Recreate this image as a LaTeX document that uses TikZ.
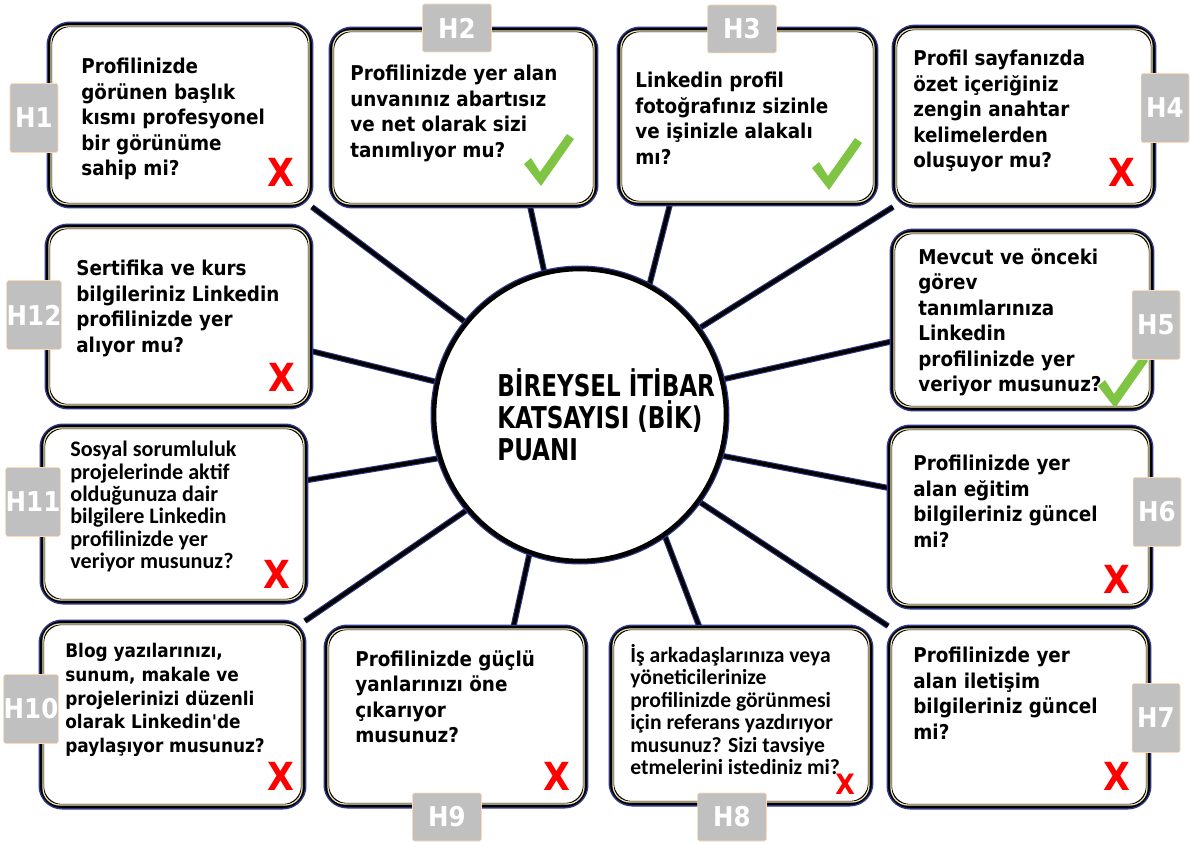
\documentclass[tikz,border=0pt]{standalone}
\usepackage{fontspec}
\setmainfont{DejaVu Sans Condensed}
\newfontfamily\calib{Carlito}
\usetikzlibrary{calc,backgrounds}

\definecolor{navy}{RGB}{47,56,140}
\definecolor{cream}{RGB}{240,228,180}
\definecolor{tagGray}{RGB}{192,192,192}
\definecolor{tickGreen}{RGB}{128,196,68}
\definecolor{crossRed}{RGB}{255,0,0}

\tikzset{
  qbox/.style={rounded corners=0.4cm, fill=white, draw=black, line width=2.3pt,
    preaction={draw=navy, line width=4pt}, anchor=north west, inner sep=0pt},
  qtext/.style={anchor=north west, align=left, inner sep=0pt,
    execute at begin node={\rule{0pt}{11pt}},
    font=\bfseries\fontsize{11.6}{14.5}\selectfont},
  qnarrow/.style={qtext, font=\calib\bfseries\fontsize{12.3}{12.8}\selectfont},
  tagbox/.style={fill=tagGray, draw=orange!30, line width=0.3pt, rounded corners=1pt,
    text=white, inner sep=0pt, font=\bfseries\fontsize{15.5}{15.5}\selectfont},
  vtag/.style={tagbox, minimum width=0.96cm, minimum height=1.38cm},
  htag/.style={tagbox, minimum width=1.38cm, minimum height=0.96cm},
  cross/.style={text=crossRed, inner sep=0pt, font=\bfseries\fontsize{22}{22}\selectfont},
  spoke/.style={draw=black, line width=2.2pt, preaction={draw=navy, line width=3.4pt}},
  tick/.pic={\fill[tickGreen] (-24,4) -- (-17,-2) -- (-8,12) -- (19,-26) -- (26,-21)
    -- (-7,26) -- cycle;}
}

\begin{document}
\begin{tikzpicture}[x=0.02cm, y=-0.02cm]
\useasboundingbox (0,0) rectangle (1190,844);

% kutular
\node[qbox, minimum width=5.20cm, minimum height=3.60cm] (b1) at (48,23) {};
\node[qbox, minimum width=5.26cm, minimum height=3.50cm] (b2) at (330,28) {};
\node[qbox, minimum width=5.10cm, minimum height=3.46cm] (b3) at (618,28) {};
\node[qbox, minimum width=5.16cm, minimum height=3.54cm] (b4) at (893,26) {};
\node[qbox, minimum width=5.16cm, minimum height=3.52cm] (b5) at (891,230) {};
\node[qbox, minimum width=5.20cm, minimum height=3.56cm] (b6) at (888,426) {};
\node[qbox, minimum width=5.16cm, minimum height=3.56cm] (b7) at (888,626) {};
\node[qbox, minimum width=5.16cm, minimum height=3.50cm] (b8) at (610,626) {};
\node[qbox, minimum width=5.16cm, minimum height=3.54cm] (b9) at (325,626) {};
\node[qbox, minimum width=5.22cm, minimum height=3.66cm] (b10) at (40,621) {};
\node[qbox, minimum width=5.24cm, minimum height=3.48cm] (b11) at (41,425) {};
\node[qbox, minimum width=5.24cm, minimum height=3.58cm] (b12) at (46,225) {};
\foreach \b in {b1,b2,b3,b4,b5,b6,b7,b8,b9,b10,b11,b12}
  \draw[cream, line width=0.7pt, rounded corners=0.34cm]
    ([shift={(3,3)}]\b.north west) rectangle ([shift={(-3,-3)}]\b.south east);

% merkez
\node[circle, fill=white, draw=black, line width=2.6pt, preaction={draw=navy, line width=4pt},
  minimum size=5.84cm, inner sep=0pt] (c) at (580,415) {};
\node[anchor=base west, align=left, inner sep=0pt,
  font=\bfseries\fontsize{14.6}{18.1}\selectfont] (ct) at (497,460)
  {\scalebox{1}[1.17]{BİREYSEL İTİBAR}\\\scalebox{1}[1.17]{KATSAYISI (BİK)}\\\scalebox{1}[1.17]{PUANI}};

% kollar
\begin{pgfonlayer}{background}
\draw[spoke] (c.141) -- (b1.south east);
\draw[spoke] (c.104) -- ($(b2.south west)!0.75!(b2.south east)$);
\draw[spoke] (c.62) -- ($(b3.south west)!0.2!(b3.south east)$);
\draw[spoke] (c.36) -- (b4.south west);
\draw[spoke] (c.14) -- ($(b5.north west)!0.62!(b5.south west)$);
\draw[spoke] (c.-16) -- ($(b6.north west)!0.34!(b6.south west)$);
\draw[spoke] (c.-36) -- (b7.north west);
\draw[spoke] (c.-55) -- ($(b8.north west)!0.34!(b8.north east)$);
\draw[spoke] (c.-110) -- ($(b9.north west)!0.72!(b9.north east)$);
\draw[spoke] (c.-140) -- (b10.north east);
\draw[spoke] (c.-163) -- ($(b11.north east)!0.31!(b11.south east)$);
\draw[spoke] (c.167) -- ($(b12.north east)!0.69!(b12.south east)$);
\end{pgfonlayer}

% sorular
\node[qtext] (q1) at (81,58) {Profilinizde\\görünen başlık\\kısmı profesyonel\\bir görünüme\\sahip mi?};
\node[qtext] (q2) at (350,65) {Profilinizde yer alan\\unvanınız abartısız\\ve net olarak sizi\\tanımlıyor mu?};
\node[qtext] (q3) at (635,72) {Linkedin profil\\fotoğrafınız sizinle\\ve işinizle alakalı\\mı?};
\node[qtext] (q4) at (913,50) {Profil sayfanızda\\özet içeriğiniz\\zengin anahtar\\kelimelerden\\oluşuyor mu?};
\node[qtext] (q5) at (918,248) {Mevcut ve önceki\\görev\\tanımlarınıza\\Linkedin\\profilinizde yer\\veriyor musunuz?};
\node[qtext] (q6) at (913,455) {Profilinizde yer\\alan eğitim\\bilgileriniz güncel\\mi?};
\node[qtext] (q7) at (913,647) {Profilinizde yer\\alan iletişim\\bilgileriniz güncel\\mi?};
\node[qnarrow] (q8) at (630,644) {İş arkadaşlarınıza veya\\yöneticilerinize\\profilinizde görünmesi\\için referans yazdırıyor\\musunuz? Sizi tavsiye\\etmelerini istediniz mi?};
\node[qtext] (q9) at (355,650) {Profilinizde güçlü\\yanlarınızı öne\\çıkarıyor\\musunuz?};
\node[qtext, font=\bfseries\fontsize{10.7}{13.5}\selectfont] (q10) at (65,643) {Blog yazılarınızı,\\sunum, makale ve\\projelerinizi düzenli\\olarak Linkedin\XeTeXglyph\XeTeXcharglyph"0027 de\\paylaşıyor musunuz?};
\node[qnarrow, font=\calib\bfseries\fontsize{12.6}{12.7}\selectfont] (q11) at (70,441) {Sosyal sorumluluk\\projelerinde aktif\\olduğunuza dair\\bilgilere Linkedin\\profilinizde yer\\veriyor musunuz?};
\node[qtext] (q12) at (76,260) {Sertifika ve kurs\\bilgileriniz Linkedin\\profilinizde yer\\alıyor mu?};

% cevaplar
\node[cross] (x1) at (281,172) {X};
\pic (ok2) at (548,160) {tick};
\pic (ok3) at (836,164) {tick};
\node[cross] (x4) at (1122,172) {X};
\pic (ok5) at (1122,382) {tick};
\node[cross] (x6) at (1117,579) {X};
\node[cross] (x7) at (1117,776) {X};
\node[cross, font=\bfseries\fontsize{16}{16}\selectfont] (x8) at (845,784) {X};
\node[cross] (x9) at (557,776) {X};
\node[cross] (x10) at (281,776) {X};
\node[cross] (x11) at (277,574) {X};
\node[cross] (x12) at (282,377) {X};

% etiketler
\node[vtag] (h1) at (34,118) {H1};
\node[htag] (h2) at (457,28) {H2};
\node[htag] (h3) at (742,29) {H3};
\node[vtag] (h4) at (1165,108) {H4};
\node[vtag] (h5) at (1156,325) {H5};
\node[vtag] (h6) at (1157,512) {H6};
\node[vtag] (h7) at (1156,718) {H7};
\node[htag] (h8) at (732,817) {H8};
\node[htag] (h9) at (447,817) {H9};
\node[vtag, minimum width=0.84cm] (h10) at (31,709) {H10};
\node[vtag] (h11) at (33,502) {H11};
\node[vtag] (h12) at (34,315) {H12};
\end{tikzpicture}
\end{document}
